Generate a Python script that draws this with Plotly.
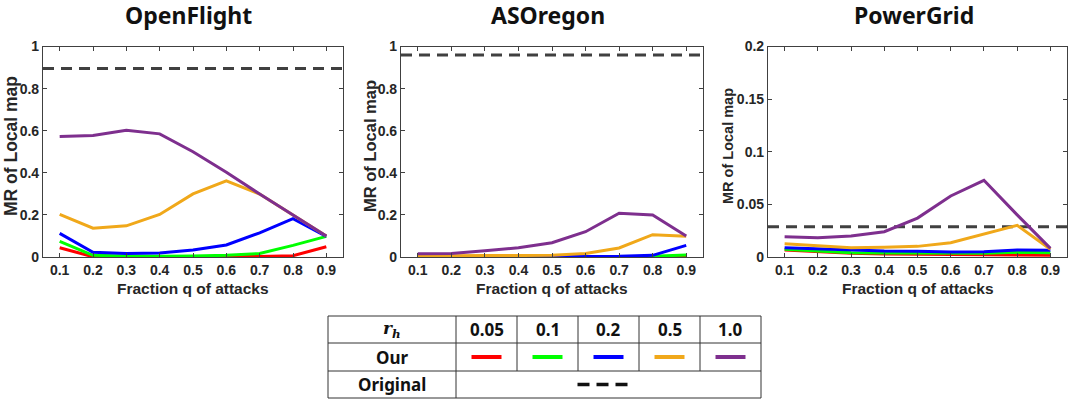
import plotly.graph_objects as go

W, H = 1072, 400

# ---- data ----
q = [0.1, 0.2, 0.3, 0.4, 0.5, 0.6, 0.7, 0.8, 0.9]
rh_labels = ["0.05", "0.1", "0.2", "0.5", "1.0"]
colors = ["#ff0000", "#00ff00", "#0000ff", "#f0a81a", "#7e2f8e"]
titles = ["OpenFlight", "ASOregon", "PowerGrid"]

openflight = [
    [0.044, 0.001, 0.001, 0.001, 0.001, 0.001, 0.002, 0.006, 0.049],
    [0.074, 0.008, 0.005, 0.003, 0.005, 0.008, 0.017, 0.055, 0.098],
    [0.112, 0.022, 0.017, 0.019, 0.033, 0.057, 0.115, 0.182, 0.098],
    [0.202, 0.137, 0.148, 0.202, 0.300, 0.362, 0.299, 0.200, 0.100],
    [0.573, 0.577, 0.602, 0.585, 0.500, 0.403, 0.299, 0.200, 0.100],
]
asoregon = [
    [0.000, 0.000, 0.000, 0.000, 0.000, 0.000, 0.000, 0.001, 0.002],
    [0.001, 0.001, 0.001, 0.001, 0.001, 0.001, 0.001, 0.003, 0.010],
    [0.001, 0.001, 0.001, 0.001, 0.001, 0.002, 0.003, 0.008, 0.055],
    [0.005, 0.007, 0.007, 0.007, 0.008, 0.017, 0.043, 0.106, 0.098],
    [0.016, 0.017, 0.030, 0.044, 0.068, 0.120, 0.208, 0.200, 0.100],
]
powergrid = [
    [0.0067, 0.0051, 0.0035, 0.0029, 0.0025, 0.0022, 0.0019, 0.0019, 0.0016],
    [0.0073, 0.0057, 0.0041, 0.0038, 0.0035, 0.0032, 0.0035, 0.0044, 0.0041],
    [0.0089, 0.0076, 0.0063, 0.0057, 0.0054, 0.0048, 0.0051, 0.0067, 0.0063],
    [0.0127, 0.0105, 0.0089, 0.0092, 0.0101, 0.0136, 0.0222, 0.0301, 0.0073],
    [0.0193, 0.0184, 0.0200, 0.0240, 0.0370, 0.0580, 0.0729, 0.0400, 0.0082],
]
original = [0.895, 0.96, 0.0288]
y_max = [1, 1, 0.2]
y_step = [0.2, 0.2, 0.05]

datasets = [openflight, asoregon, powergrid]

# panel boxes in pixels (left, right), shared top/bottom
panels_px = [(43, 343), (401, 703), (768, 1067)]
top_px, bot_px = 46.5, 257
title_x_px = [188, 548, 914]
ytitle_x_px = [11, 370, 728]
ytitle_size = [17.5, 16.5, 14.5]


def px(x):
    return x / W


def py(y):
    return 1 - y / H


tick_font = dict(family="Liberation Sans, Arial", size=14, color="#262626", weight="bold")
axis_color = "#404040"

fig = go.Figure()
annotations = []
shapes = []

for i, data in enumerate(datasets):
    n = "" if i == 0 else str(i + 1)
    for k, series in enumerate(data):
        fig.add_trace(go.Scatter(
            x=q, y=series, mode="lines",
            line=dict(color=colors[k], width=3),
            xaxis="x" + n, yaxis="y" + n, showlegend=False,
            hoverinfo="skip",
        ))
    l, r = panels_px[i]
    fig.update_layout(**{
        "xaxis" + n: dict(
            domain=[px(l), px(r)], anchor="y" + n, range=[0.05, 0.95],
            tickvals=q, ticktext=[str(v) for v in q],
            ticks="inside", ticklen=4, tickcolor=axis_color,
            showline=True, linecolor=axis_color, linewidth=1.2, mirror="ticks",
            showgrid=False, zeroline=False, tickfont=tick_font, automargin=False,
        ),
        "yaxis" + n: dict(
            domain=[py(bot_px), py(top_px)], anchor="x" + n, range=[0, y_max[i]],
            dtick=y_step[i], tick0=0,
            ticks="inside", ticklen=4, tickcolor=axis_color,
            showline=True, linecolor=axis_color, linewidth=1.2, mirror="ticks",
            showgrid=False, zeroline=False, tickfont=tick_font, automargin=False,
        ),
    })
    # baseline of the original map
    shapes.append(dict(
        type="line", xref=("x" + n) + " domain", yref="y" + n,
        x0=0, x1=1, y0=original[i], y1=original[i],
        line=dict(color="#404040", width=3, dash="11px,7px"), layer="below",
    ))
    annotations.append(dict(
        text=titles[i], x=px(title_x_px[i]), y=py(15), xref="paper", yref="paper",
        showarrow=False, xanchor="center", yanchor="middle",
        font=dict(family="Noto Sans, Lato", size=23, color="#111111", weight="bold"),
    ))
    annotations.append(dict(
        text="Fraction q of attacks", x=px((l + r) / 2), y=py(288),
        xref="paper", yref="paper", showarrow=False,
        xanchor="center", yanchor="middle",
        font=dict(family="Liberation Sans, Arial", size=15.5, color="#262626", weight="bold"),
    ))
    annotations.append(dict(
        text="MR of Local map", x=px(ytitle_x_px[i]), y=py(146),
        xref="paper", yref="paper", showarrow=False, textangle=-90,
        xanchor="center", yanchor="middle",
        font=dict(family="Liberation Sans, Arial", size=ytitle_size[i], color="#262626", weight="bold"),
    ))

# ---- legend table ----
tl, tr, tt, tb = 328, 761, 316, 398
row_lines = [343, 371]
col_lines = [456, 517, 578, 639, 700]
border = dict(color="#333333", width=1)

shapes.append(dict(type="rect", xref="paper", yref="paper",
                   x0=px(tl), x1=px(tr), y0=py(tb), y1=py(tt), line=border))
for y in row_lines:
    shapes.append(dict(type="line", xref="paper", yref="paper",
                       x0=px(tl), x1=px(tr), y0=py(y), y1=py(y), line=border))
for j, x in enumerate(col_lines):
    y_end = tb if j == 0 else row_lines[1]
    shapes.append(dict(type="line", xref="paper", yref="paper",
                       x0=px(x), x1=px(x), y0=py(tt), y1=py(y_end), line=border))

table_font = dict(family="Noto Sans, Lato", size=17, color="#111111", weight="bold")
row_y = [(tt + row_lines[0]) / 2, (row_lines[0] + row_lines[1]) / 2, (row_lines[1] + tb) / 2]
first_cx = (tl + col_lines[0]) / 2
col_edges = col_lines + [tr]
col_cx = [(col_edges[j] + col_edges[j + 1]) / 2 for j in range(5)]

annotations.append(dict(
    text="<i>r</i><sub><i>h</i></sub>", x=px(first_cx), y=py(row_y[0]),
    xref="paper", yref="paper", showarrow=False, xanchor="center", yanchor="middle",
    font=dict(family="DejaVu Serif", size=17, color="#111111", weight="bold"),
))
annotations.append(dict(text="Our", x=px(first_cx), y=py(row_y[1]), xref="paper", yref="paper",
                        showarrow=False, xanchor="center", yanchor="middle", font=table_font))
annotations.append(dict(text="Original", x=px(first_cx), y=py(row_y[2]), xref="paper", yref="paper",
                        showarrow=False, xanchor="center", yanchor="middle", font=table_font))

for j, lab in enumerate(rh_labels):
    annotations.append(dict(text=lab, x=px(col_cx[j]), y=py(row_y[0]), xref="paper", yref="paper",
                            showarrow=False, xanchor="center", yanchor="middle", font=table_font))
    shapes.append(dict(type="line", xref="paper", yref="paper",
                       x0=px(col_cx[j] - 15), x1=px(col_cx[j] + 15),
                       y0=py(row_y[1]), y1=py(row_y[1]),
                       line=dict(color=colors[j], width=4)))

dash_cx = (col_lines[0] + tr) / 2 - 6
shapes.append(dict(type="line", xref="paper", yref="paper",
                   x0=px(dash_cx - 25), x1=px(dash_cx + 25),
                   y0=py(row_y[2]), y1=py(row_y[2]),
                   line=dict(color="#111111", width=3.5, dash="12px,7px")))

fig.update_layout(
    width=W, height=H,
    margin=dict(l=0, r=0, t=0, b=0),
    paper_bgcolor="white", plot_bgcolor="white",
    annotations=annotations, shapes=shapes,
    showlegend=False,
)

# page body margin off so the figure fills the window exactly
fig.write_html("out.html", config={"displayModeBar": False},
               post_script="document.body.style.margin='0';")
